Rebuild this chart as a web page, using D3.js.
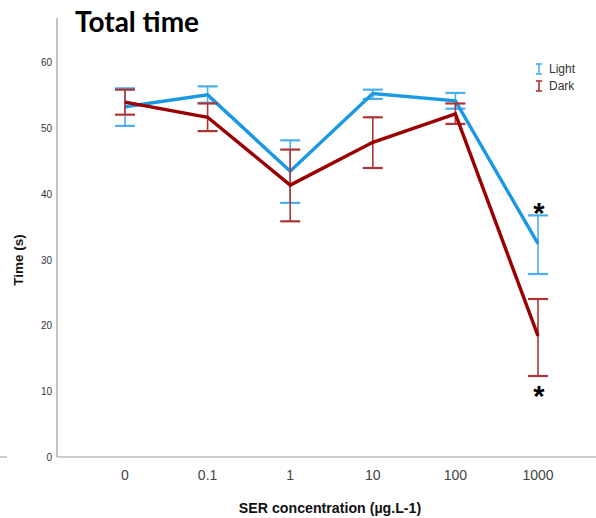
<!DOCTYPE html>
<html>
<head>
<meta charset="utf-8">
<script src="https://cdn.jsdelivr.net/npm/d3@7"></script>
<style>
  body { margin: 0; background: #fff; }
  svg { display: block; }
</style>
</head>
<body>
<svg id="chart"></svg>
<script>
/* data */
var concentrations = ['0', '0.1', '1', '10', '100', '1000'];
var yTicks = [0, 10, 20, 30, 40, 50, 60];

var lightMean  = [53.2, 55.0, 43.4, 55.2, 54.1, 32.4];
var lightUpper = [56.0, 56.3, 48.1, 55.8, 55.3, 36.7];
var lightLower = [50.3, 53.8, 38.6, 54.4, 52.9, 27.8];

var darkMean  = [53.9, 51.6, 41.3, 47.8, 52.1, 18.4];
var darkUpper = [55.8, 53.7, 46.7, 51.6, 53.7, 24.0];
var darkLower = [52.0, 49.5, 35.8, 43.9, 50.6, 12.3];

var seriesNames = ['Light', 'Dark'];
var starred = ['1000'];

/* Init main svg */
var svg = d3.select('svg#chart')
    .attr('width', 596)
    .attr('height', 518)
    .style('background', '#fff');

var x = d3.scalePoint().domain(concentrations).range([125, 538]);
var y = d3.scaleLinear().domain([0, 60]).range([457, 62]);

var lineColors = {Light: '#1b98e4', Dark: '#9a0000'};
var barColors = {Light: '#4aaeee', Dark: '#ad3535'};

/* title */
svg.append('text')
    .attr('x', 75).attr('y', 32)
    .attr('font-family', 'Lato, "Open Sans", sans-serif')
    .attr('font-weight', 'bold')
    .attr('font-size', '28px')
    .attr('fill', '#000')
    .text('Total time');

/* axes as plain lines, SPSS style */
svg.append('line')
    .attr('x1', 57).attr('x2', 57)
    .attr('y1', 18).attr('y2', y(0))
    .attr('stroke', '#999').attr('stroke-width', 1.2);
svg.append('line')
    .attr('x1', 57).attr('x2', 596)
    .attr('y1', y(0)).attr('y2', y(0))
    .attr('stroke', '#999').attr('stroke-width', 1.2);
// little stray tick at the far left
svg.append('line')
    .attr('x1', 0).attr('x2', 7)
    .attr('y1', y(0)).attr('y2', y(0))
    .attr('stroke', '#999').attr('stroke-width', 1);

svg.append('g').selectAll('text')
    .data(yTicks)
    .enter()
    .append('text')
    .attr('x', 52)
    .attr('y', d => y(d) + 4)
    .attr('text-anchor', 'end')
    .attr('font-family', '"Liberation Sans", Arial, sans-serif')
    .attr('font-size', '10px')
    .attr('fill', '#333')
    .text(d => d);

svg.append('g').selectAll('text')
    .data(concentrations)
    .enter()
    .append('text')
    .attr('x', d => x(d))
    .attr('y', 480)
    .attr('text-anchor', 'middle')
    .attr('font-family', '"Liberation Sans", Arial, sans-serif')
    .attr('font-size', '14px')
    .attr('fill', '#444')
    .text(d => d);

svg.append('text')
    .attr('x', 330).attr('y', 513)
    .attr('text-anchor', 'middle')
    .attr('font-family', '"Liberation Sans", Arial, sans-serif')
    .attr('font-weight', 'bold')
    .attr('font-size', '14.2px')
    .attr('fill', '#111')
    .text('SER concentration (µg.L-1)');

svg.append('text')
    .attr('transform', 'translate(23,260) rotate(-90)')
    .attr('text-anchor', 'middle')
    .attr('font-family', '"Liberation Sans", Arial, sans-serif')
    .attr('font-weight', 'bold')
    .attr('font-size', '13.5px')
    .attr('fill', '#111')
    .text('Time (s)');

/* one series = error bars + line */
function drawSeries(name, mean, upper, lower){
    var rows = concentrations.map((c, i) => ({c: c, m: mean[i], hi: upper[i], lo: lower[i]}));
    var g = svg.append('g').attr('class', name);

    var bars = g.append('g')
        .attr('stroke', barColors[name])
        .attr('stroke-width', 1.6)
        .selectAll('g')
        .data(rows)
        .enter()
        .append('g');
    bars.append('line')
        .attr('x1', d => x(d.c)).attr('x2', d => x(d.c))
        .attr('y1', d => y(d.hi)).attr('y2', d => y(d.lo));
    bars.append('line')
        .attr('x1', d => x(d.c) - 10).attr('x2', d => x(d.c) + 10)
        .attr('y1', d => y(d.hi)).attr('y2', d => y(d.hi))
        .attr('stroke-width', 2.2);
    bars.append('line')
        .attr('x1', d => x(d.c) - 10).attr('x2', d => x(d.c) + 10)
        .attr('y1', d => y(d.lo)).attr('y2', d => y(d.lo))
        .attr('stroke-width', 2.2);

    g.append('path')
        .datum(rows)
        .attr('fill', 'none')
        .attr('stroke', lineColors[name])
        .attr('stroke-width', 3.4)
        .attr('stroke-linejoin', 'miter')
        .attr('d', d3.line().x(d => x(d.c)).y(d => y(d.m)));
}

drawSeries('Light', lightMean, lightUpper, lightLower);
drawSeries('Dark', darkMean, darkUpper, darkLower);

/* significance stars */
starred.forEach(function(c){
    var i = concentrations.indexOf(c);
    svg.append('text')
        .attr('x', x(c) + 1).attr('y', y(lightUpper[i]) + 8)
        .attr('text-anchor', 'middle')
        .attr('font-family', '"Liberation Sans", Arial, sans-serif')
        .attr('font-weight', 'bold')
        .attr('font-size', '29px')
        .attr('fill', '#000')
        .text('*');
    svg.append('text')
        .attr('x', x(c) + 1).attr('y', y(darkLower[i]) + 30)
        .attr('text-anchor', 'middle')
        .attr('font-family', '"Liberation Sans", Arial, sans-serif')
        .attr('font-weight', 'bold')
        .attr('font-size', '29px')
        .attr('fill', '#000')
        .text('*');
});

/* legend */
var legend = svg.append('g')
    .selectAll('g')
    .data(seriesNames)
    .enter()
    .append('g')
    .attr('transform', (d, i) => `translate(539,${69 + i * 17})`);
legend.append('line')
    .attr('x1', 0).attr('x2', 0).attr('y1', -5).attr('y2', 5)
    .attr('stroke', d => barColors[d]).attr('stroke-width', 1.6);
legend.append('line')
    .attr('x1', -3).attr('x2', 3).attr('y1', -5).attr('y2', -5)
    .attr('stroke', d => barColors[d]).attr('stroke-width', 1.6);
legend.append('line')
    .attr('x1', -3).attr('x2', 3).attr('y1', 5).attr('y2', 5)
    .attr('stroke', d => barColors[d]).attr('stroke-width', 1.6);
legend.append('text')
    .attr('x', 10).attr('y', 4)
    .attr('font-family', '"Liberation Sans", Arial, sans-serif')
    .attr('font-size', '12px')
    .attr('fill', '#333')
    .text(d => d);
</script>
</body>
</html>
